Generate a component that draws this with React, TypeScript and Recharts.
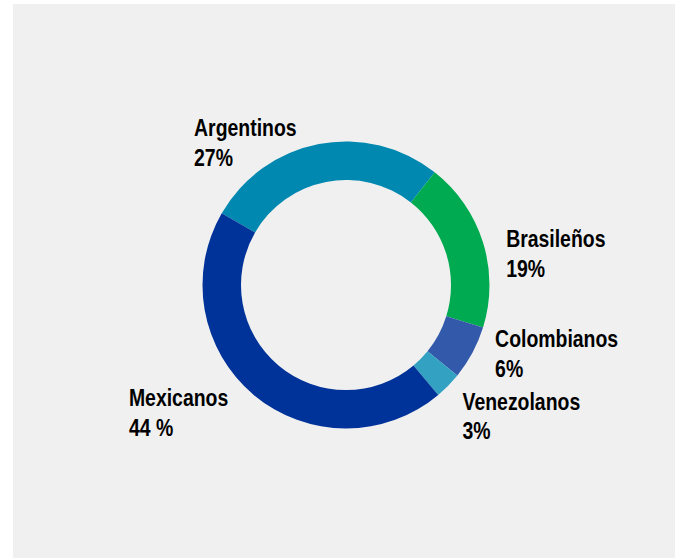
import { PieChart, Pie, Cell } from "recharts";

const nationalities = ["Argentinos", "Brasileños", "Colombianos", "Venezolanos", "Mexicanos"];
const shares = [27, 19, 6, 3, 44];
const shareLabels = ["27%", "19%", "6%", "3%", "44 %"];
const colors = ["#0088b0", "#00aa50", "#335aaa", "#33a2c2", "#003399"];

// label nudges from the radial anchor point (Excel-style best fit)
const labelNudge: Record<string, [number, number]> = {
  Argentinos: [-121, 12],
  "Brasileños": [4, 11],
  Colombianos: [5, -15],
  Venezolanos: [0, 10],
  Mexicanos: [-112, -4],
};

const data = nationalities.map((name, i) => ({
  name,
  value: shares[i],
  text: shareLabels[i],
}));

const RAD = Math.PI / 180;

function renderLabel(props: any) {
  const { cx, cy, midAngle, outerRadius, index } = props;
  const r = outerRadius + 20;
  const px = cx + r * Math.cos(-midAngle * RAD);
  const py = cy + r * Math.sin(-midAngle * RAD);
  const d = data[index];
  const [dx, dy] = labelNudge[d.name] || [0, 0];
  // narrow bold face: squeeze Liberation Sans horizontally
  return (
    <text
      transform={`translate(${px + dx},${py + dy}) scale(0.845,1)`}
      fill="#000"
      textAnchor="start"
      fontFamily="'Liberation Sans', Arial, sans-serif"
      fontWeight="bold"
      fontSize={23}
    >
      <tspan x={0} y={0}>{d.name}</tspan>
      <tspan x={0} y={29.5}>{d.text}</tspan>
    </text>
  );
}

export default function App() {
  return (
    <div
      style={{
        position: "absolute",
        left: 13,
        top: 4,
        width: 662,
        height: 554,
        background: "#f0f0f0",
      }}
    >
      <PieChart width={662} height={554}>
        <Pie
          data={data}
          dataKey="value"
          nameKey="name"
          cx={328}
          cy={276}
          innerRadius={105}
          outerRadius={143.5}
          startAngle={150}
          endAngle={-210}
          stroke="none"
          labelLine={false}
          label={renderLabel}
          isAnimationActive={false}
        >
          {data.map((d, i) => (
            <Cell key={d.name} fill={colors[i]} />
          ))}
        </Pie>
      </PieChart>
    </div>
  );
}
